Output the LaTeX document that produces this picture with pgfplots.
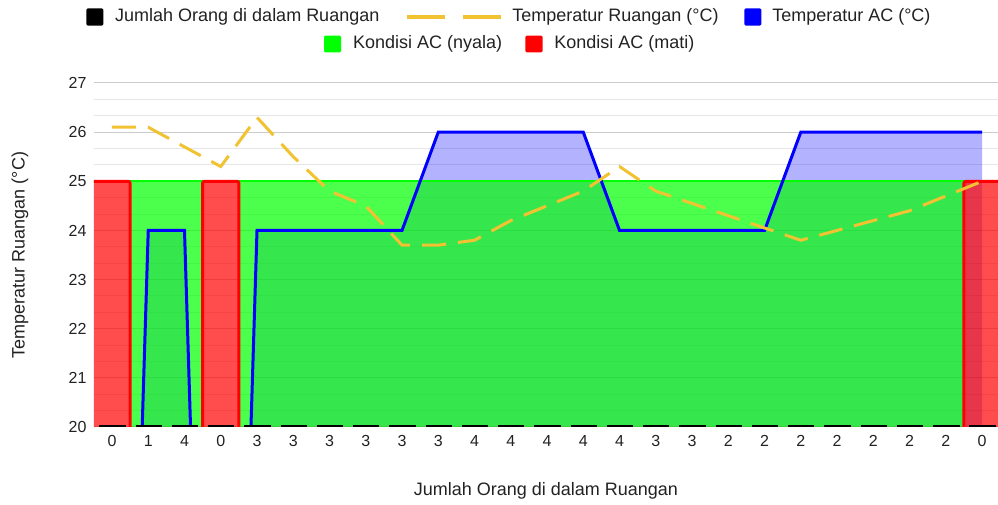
\documentclass[border=0pt]{standalone}
\usepackage{pgfplots}
\pgfplotsset{compat=1.18}
\usepackage{fontspec}
\setmainfont{Liberation Sans}

\definecolor{gridmaj}{HTML}{CCCCCC}
\definecolor{gridmin}{HTML}{E6E6E6}
\definecolor{suhu}{HTML}{F1C232}
\definecolor{ijo}{HTML}{00FF00}
\definecolor{abang}{HTML}{FF0000}
\definecolor{biru}{HTML}{0000FF}
\definecolor{txt}{HTML}{222222}

% x = tepi kiri tiap kategori
\pgfplotstableread{
x     nyala mati
-0.5  0     25
0.5   25    0
1.5   25    0
2.5   0     25
3.5   25    0
4.5   25    0
5.5   25    0
6.5   25    0
7.5   25    0
8.5   25    0
9.5   25    0
10.5  25    0
11.5  25    0
12.5  25    0
13.5  25    0
14.5  25    0
15.5  25    0
16.5  25    0
17.5  25    0
18.5  25    0
19.5  25    0
20.5  25    0
21.5  25    0
22.5  25    0
23.5  0     25
24.5  0     25
}\kondisi

% x = tengah kategori
\pgfplotstableread{
x   ac   ruang
0   0    26.1
1   24   26.1
2   24   25.7
3   0    25.3
4   24   26.3
5   24   25.5
6   24   24.8
7   24   24.5
8   24   23.7
9   26   23.7
10  26   23.8
11  26   24.2
12  26   24.5
13  26   24.8
14  24   25.3
15  24   24.8
16  24   24.55
17  24   24.3
18  24   24.05
19  26   23.8
20  26   24.0
21  26   24.2
22  26   24.4
23  26   24.7
24  26   25.0
}\suhu

\begin{document}
\begin{tikzpicture}
\path[use as bounding box] (-70.4pt,-57.75pt) rectangle (678.1pt,320.25pt);
\begin{axis}[
    scale only axis,
    width=678.1pt, height=258pt,
    xmin=-0.5, xmax=24.44,
    ymin=20, ymax=27,
    ytick={20,21,...,27},
    minor y tick num=2,
    xtick={0,1,...,24},
    xticklabels={0,1,4,0,3,3,3,3,3,3,4,4,4,4,4,3,3,2,2,2,2,2,2,2,0},
    ymajorgrids, yminorgrids,
    major grid style={gridmaj, line width=0.75pt},
    minor grid style={gridmin, line width=0.75pt},
    axis line style={draw=none},
    major tick length=0pt, minor tick length=0pt,
    tick label style={font=\fontsize{12}{14}\selectfont, text=txt},
    yticklabel style={xshift=-2pt},
    xticklabel style={yshift=-2.5pt},
    /pgf/number format/assume math mode=true,
]
% isian (fill) dulu, garis sesudahnya
\addplot[draw=none, fill=biru, fill opacity=0.3] table[x=x, y=ac] {\suhu} \closedcycle;
\addplot[const plot, draw=none, fill=ijo, fill opacity=0.7] table[x=x, y=nyala] {\kondisi} \closedcycle;
\addplot[const plot, draw=none, fill=abang, fill opacity=0.7] table[x=x, y=mati] {\kondisi} \closedcycle;

\addplot[const plot, ijo, line width=1.8pt] table[x=x, y=nyala] {\kondisi};
\addplot[const plot, abang, line width=2.25pt, rounded corners=1.5pt] table[x=x, y=mati] {\kondisi};
\addplot[biru, line width=2.25pt] table[x=x, y=ac] {\suhu};
\addplot[suhu, line width=2.25pt, dash pattern=on 18pt off 9pt] table[x=x, y=ruang] {\suhu};

% Jumlah Orang (di bawah skala, tampak di garis dasar)
\addplot[black, line width=3pt, dash pattern=on 19.8pt off 7.39pt, dash phase=23.14pt]
    coordinates {(-0.5,20) (24.44,20)};
\end{axis}

% judul sumbu
\node[font=\fontsize{13.5}{16}\selectfont, text=txt] at (339pt,-48pt) {Jumlah Orang di dalam Ruangan};
\node[font=\fontsize{13.5}{16}\selectfont, text=txt, rotate=90] at (-55.5pt,129pt) {Temperatur Ruangan (°C)};

% legenda
\begin{scope}[font=\fontsize{13.5}{16}\selectfont, text=txt]
\fill[black, rounded corners=1pt] (-5.6pt,301.1pt) rectangle (7.1pt,313.9pt);
\node[anchor=west, inner sep=0pt] at (15.8pt,307.5pt) {Jumlah Orang di dalam Ruangan};
\draw[suhu, line width=3.5pt] (234.8pt,307.5pt) -- (263.3pt,307.5pt);
\draw[suhu, line width=3.5pt] (276.8pt,307.5pt) -- (305.3pt,307.5pt);
\node[anchor=west, inner sep=0pt] at (313.6pt,307.5pt) {Temperatur Ruangan (°C)};
\fill[biru, rounded corners=1pt] (487.9pt,301.1pt) rectangle (500.7pt,313.9pt);
\node[anchor=west, inner sep=0pt] at (508.6pt,307.5pt) {Temperatur AC (°C)};
\fill[ijo, rounded corners=1pt] (172.6pt,280.9pt) rectangle (185.4pt,293.6pt);
\node[anchor=west, inner sep=0pt] at (194.3pt,287.25pt) {Kondisi AC (nyala)};
\fill[abang, rounded corners=1pt] (323.7pt,280.9pt) rectangle (336.5pt,293.6pt);
\node[anchor=west, inner sep=0pt] at (345.1pt,287.25pt) {Kondisi AC (mati)};
\end{scope}
\end{tikzpicture}
\end{document}
